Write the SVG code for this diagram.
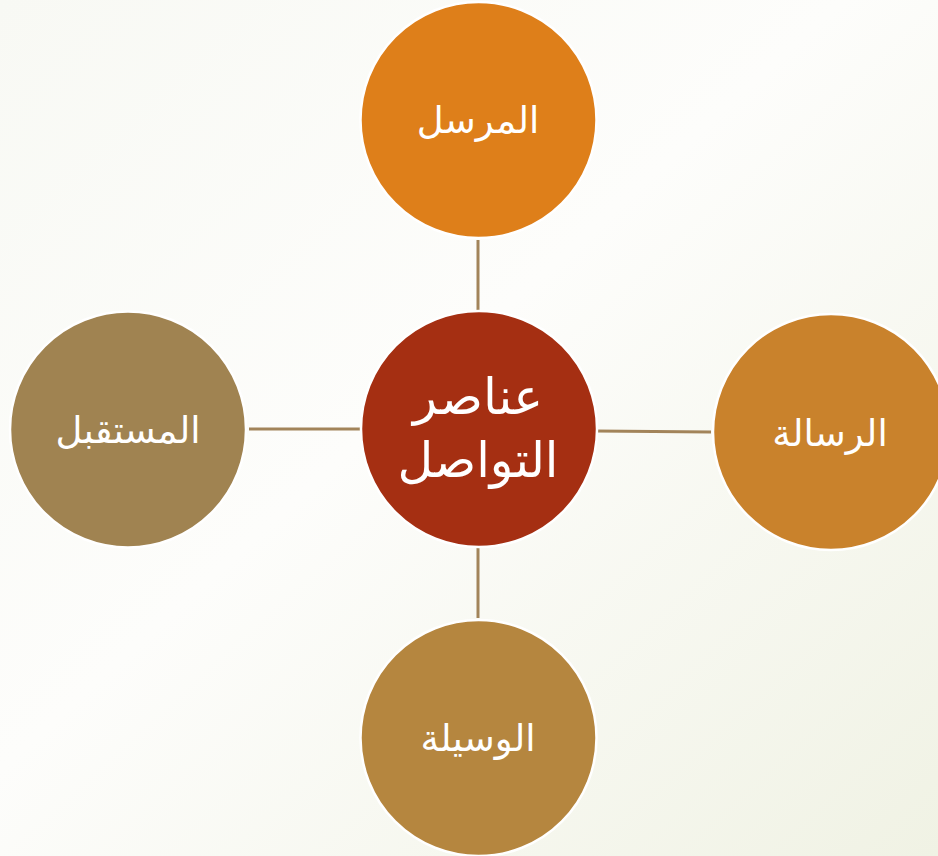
<svg xmlns="http://www.w3.org/2000/svg" width="938" height="856" viewBox="0 0 938 856">
<defs>
<linearGradient id="bg" x1="0" y1="0" x2="1" y2="1">
<stop offset="0" stop-color="#F8F9F4"/>
<stop offset="0.45" stop-color="#FDFDFB"/>
<stop offset="1" stop-color="#F0F2E4"/>
</linearGradient>
<style>
.node{stroke:#FFFFFF;stroke-width:2.5}
.lbl{font-family:"DejaVu Sans","Noto Sans",sans-serif;fill:#FFFFFF;text-anchor:middle;direction:rtl}
.conn{stroke:#A2845A;stroke-width:3;fill:none}
</style>
</defs>
<rect width="938" height="856" fill="url(#bg)"/>
<g id="connectors">
<line class="conn" x1="478" y1="240" x2="478" y2="312"/>
<line class="conn" x1="478" y1="547" x2="478" y2="618"/>
<line class="conn" x1="249" y1="429" x2="361" y2="429"/>
<line class="conn" x1="596" y1="431" x2="711" y2="432"/>
</g>
<g id="center">
<circle class="node" cx="479" cy="429" r="118" fill="#A52F12"/>
<text class="lbl" x="478" y="414" font-size="50">عناصر</text>
<text class="lbl" x="478" y="477" font-size="49">التواصل</text>
</g>
<g id="sender">
<circle class="node" cx="478.5" cy="120" r="118" fill="#DE7F1A"/>
<text class="lbl" x="478" y="133" font-size="37">المرسل</text>
</g>
<g id="message">
<circle class="node" cx="831" cy="432" r="118" fill="#C9822C"/>
<text class="lbl" x="830" y="446" font-size="37">الرسالة</text>
</g>
<g id="medium">
<circle class="node" cx="478.5" cy="738" r="118" fill="#B5863F"/>
<text class="lbl" x="478" y="751" font-size="37">الوسيلة</text>
</g>
<g id="receiver">
<circle class="node" cx="128" cy="429.5" r="118" fill="#A08351"/>
<text class="lbl" x="128" y="443" font-size="37">المستقبل</text>
</g>
</svg>
